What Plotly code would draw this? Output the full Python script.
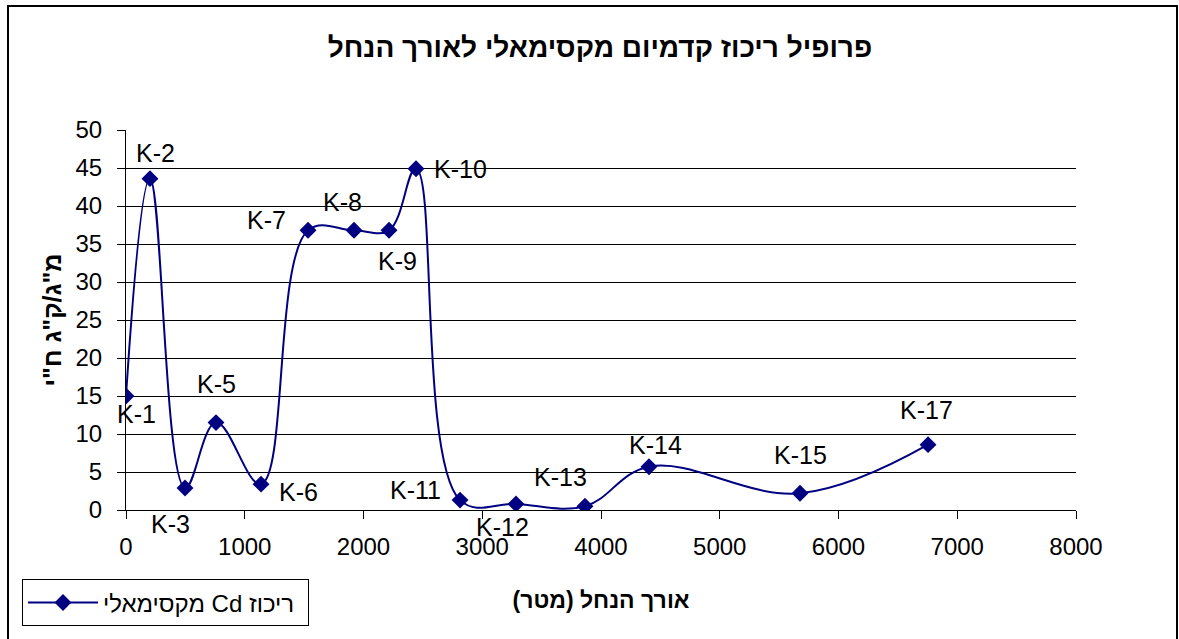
import plotly.graph_objects as go

# Data
stations = ["K-1", "K-2", "K-3", "K-5", "K-6", "K-7", "K-8", "K-9", "K-10",
            "K-11", "K-12", "K-13", "K-14", "K-15", "K-17"]
distance_m = [0, 202, 497, 758, 1137, 1533, 1920, 2215, 2442,
              2813, 3284, 3865, 4404, 5676, 6754]
cd_max = [15.0, 43.6, 2.9, 11.5, 3.4, 36.8, 36.8, 36.8, 44.9,
          1.3, 0.8, 0.5, 5.7, 2.2, 8.6]

x_ticks = [0, 1000, 2000, 3000, 4000, 5000, 6000, 7000, 8000]
y_ticks = [0, 5, 10, 15, 20, 25, 30, 35, 40, 45, 50]

title_text = "פרופיל ריכוז קדמיום מקסימאלי לאורך הנחל"
x_title = "\u202bאורך הנחל (מטר)\u202c"
y_title = "\u202bמ\"ג/ק\"ג ח\"י\u202c"
series_name = "\u202bריכוז Cd מקסימאלי\u202c"

# label offsets in pixels (dx right, dy down) relative to each point
label_dx = [10, 6, -15, 0, 37, -42, -12, 8, 45, -45, -13, -24, 7, 0, -2]
label_dy = [18, -26, 36, -39, 8, -10, -28, 31, 0, -10, 23, -29, -22, -38, -35]

navy = "#000080"
FONT = "Liberation Sans, Arial, sans-serif"

fig = go.Figure()
fig.add_trace(go.Scatter(
    x=distance_m, y=cd_max, mode="lines+markers", name=series_name,
    line=dict(color=navy, width=2, shape="spline", smoothing=1.1),
    marker=dict(symbol="diamond", size=13, color=navy),
    showlegend=True,
))

annotations = []
for s, xv, yv, dx, dy in zip(stations, distance_m, cd_max, label_dx, label_dy):
    annotations.append(dict(
        x=xv, y=yv, xref="x", yref="y", text=s, showarrow=False,
        xshift=dx, yshift=-dy, font=dict(size=25, color="black", family=FONT),
        xanchor="center", yanchor="middle",
    ))

W, H = 1179, 639
L, R, T, B = 126, 103, 130, 126
pw, ph = W - L - R, H - T - B
base_y = H - B  # pixel row of y=0

def px2paper_x(px):
    return (px - L) / pw

def px2paper_y(py):
    return (base_y - py) / ph

fig.update_layout(
    width=W, height=H,
    margin=dict(l=L, r=R, t=T, b=B, pad=0),
    paper_bgcolor="white", plot_bgcolor="white",
    font=dict(family=FONT, color="black", size=24),
    title=dict(text="<b>" + title_text + "</b>", x=px2paper_x(600),
               xanchor="center", xref="paper",
               y=1 - 47 / H, yanchor="middle",
               font=dict(size=28, family=FONT, color="black")),
    xaxis=dict(range=[0, 8000], tickvals=x_ticks, ticks="outside", ticklen=8,
               tickcolor="black", showline=True, linecolor="black", linewidth=1,
               showgrid=False, zeroline=False, ticklabelstandoff=7,
               tickfont=dict(size=24, family=FONT),
               title=dict(text="<b>" + x_title + "</b>", standoff=33,
                          font=dict(size=23, family=FONT))),
    yaxis=dict(range=[0, 50], tickvals=y_ticks, ticks="outside", ticklen=8,
               tickcolor="black", showline=True, linecolor="black", linewidth=1,
               showgrid=True, gridcolor="black", gridwidth=1, zeroline=False,
               ticklabelstandoff=10,
               tickfont=dict(size=24, family=FONT),
               title=dict(text="<b>" + y_title + "</b>", standoff=6,
                          font=dict(size=25, family=FONT))),
    legend=dict(x=px2paper_x(22), y=px2paper_y(583), xanchor="left", yanchor="top",
                orientation="h", itemwidth=70, entrywidth=200, entrywidthmode="pixels",
                bordercolor="black", borderwidth=1, bgcolor="white",
                font=dict(size=24, family=FONT)),
    annotations=annotations,
    shapes=[dict(type="rect", xref="paper", yref="paper",
                 x0=px2paper_x(8), x1=px2paper_x(1177),
                 y0=px2paper_y(650), y1=px2paper_y(5),
                 line=dict(color="black", width=2), layer="below")],
)

fig.write_html("out.html", config={"displayModeBar": False},
               post_script="document.body.style.margin='0';")
